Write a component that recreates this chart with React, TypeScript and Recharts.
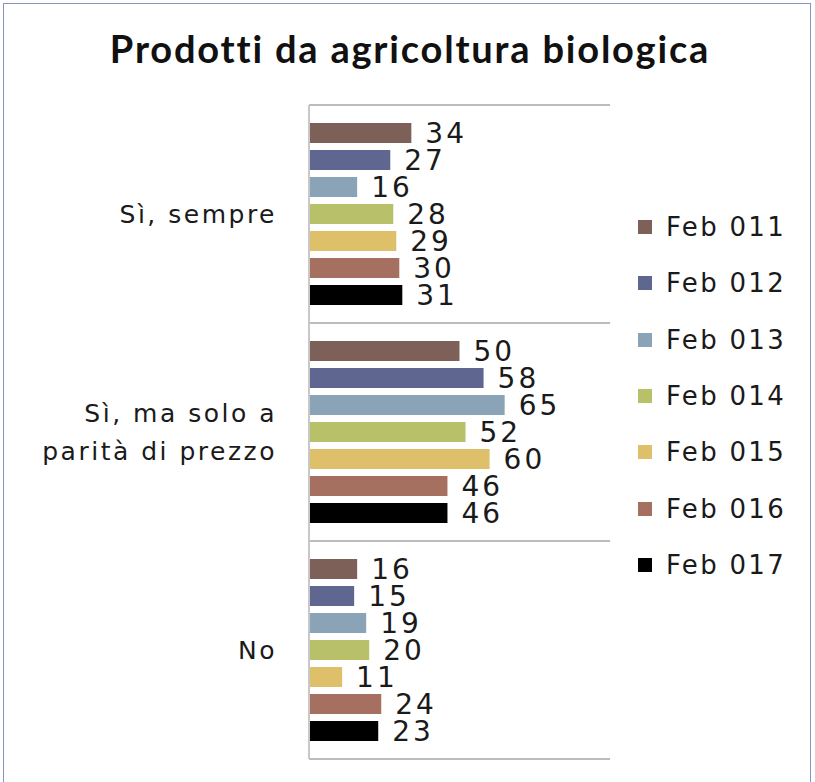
import { BarChart, Bar, XAxis, YAxis, CartesianGrid, Legend, LabelList } from "recharts";

const categories = ["Sì, sempre", "Sì, ma solo a\nparità di prezzo", "No"];

const feb011 = [34, 50, 16];
const feb012 = [27, 58, 15];
const feb013 = [16, 65, 19];
const feb014 = [28, 52, 20];
const feb015 = [29, 60, 11];
const feb016 = [30, 46, 24];
const feb017 = [31, 46, 23];

const seriesNames = ["Feb 011", "Feb 012", "Feb 013", "Feb 014", "Feb 015", "Feb 016", "Feb 017"];
const seriesValues = [feb011, feb012, feb013, feb014, feb015, feb016, feb017];
const COLORS = ["#7d6057", "#5f6690", "#8ba3b6", "#b8c16a", "#dfc06a", "#a57060", "#000000"];

const data = categories.map((category, i) => {
  const row: Record<string, string | number> = { category };
  seriesNames.forEach((name, s) => {
    row[name] = seriesValues[s][i];
  });
  return row;
});

const FONT = "'DejaVu Sans', sans-serif";

function CategoryTick(props: any) {
  const { x, y, payload } = props;
  const lines = String(payload.value).split("\n");
  const lineHeight = 38;
  const startY = y - ((lines.length - 1) * lineHeight) / 2;
  return (
    <text
      x={x - 24}
      textAnchor="end"
      fill="#1a1a1a"
      fontSize={25}
      fontFamily={FONT}
      letterSpacing={2.5}
    >
      {lines.map((line, i) => (
        <tspan key={i} x={x - 24} y={startY + i * lineHeight} dominantBaseline="central">
          {line}
        </tspan>
      ))}
    </text>
  );
}

function renderLegend(props: any) {
  const { payload } = props;
  return (
    <div>
      {payload.map((item: any) => (
        <div
          key={item.value}
          style={{
            display: "flex",
            alignItems: "center",
            height: 56.3,
            fontSize: 26,
            letterSpacing: 2.3,
            color: "#1a1a1a",
          }}
        >
          <span style={{ width: 14, height: 14, background: item.color, marginRight: 14 }} />
          {item.value}
        </div>
      ))}
    </div>
  );
}

export default function App() {
  return (
    <div
      style={{
        position: "absolute",
        left: 0,
        top: 0,
        width: 815,
        height: 782,
        overflow: "hidden",
        background: "#fff",
        fontFamily: FONT,
      }}
    >
      <div
        style={{
          position: "absolute",
          left: 3,
          top: 3,
          width: 806,
          height: 820,
          border: "1.5px solid #8a93c0",
        }}
      />
      <div
        style={{
          position: "absolute",
          left: 0,
          top: 25,
          width: 820,
          textAlign: "center",
          fontFamily: "Lato, sans-serif",
          fontWeight: 700,
          fontSize: 38,
          letterSpacing: 1.8,
          color: "#111",
        }}
      >
        Prodotti da agricoltura biologica
      </div>
      <div style={{ position: "absolute", left: 0, top: 0 }}>
        <BarChart
          width={815}
          height={782}
          data={data}
          layout="vertical"
          margin={{ top: 105, right: 205, bottom: 23, left: 0 }}
          barSize={20}
          barGap={7}
        >
          <CartesianGrid
            vertical={false}
            stroke="#a6a6a6"
            strokeWidth={1.5}
            horizontalCoordinatesGenerator={({ offset }: any) =>
              [0, 1, 2, 3].map((i) => offset.top + (i * offset.height) / 3)
            }
          />
          <XAxis type="number" domain={[0, 100]} hide />
          <YAxis
            type="category"
            dataKey="category"
            width={309}
            axisLine={{ stroke: "#c8c8c8", strokeWidth: 2 }}
            tickLine={false}
            tick={<CategoryTick />}
            interval={0}
          />
          <Legend
            layout="vertical"
            align="center"
            verticalAlign="middle"
            wrapperStyle={{ left: 638, top: 199, width: 175 }}
            content={renderLegend}
          />
          {seriesNames.map((name, s) => (
            <Bar key={name} dataKey={name} fill={COLORS[s]} isAnimationActive={false}>
              <LabelList
                dataKey={name}
                position="right"
                offset={14}
                fill="#1a1a1a"
                fontSize={28}
                letterSpacing={3}
                fontFamily={FONT}
              />
            </Bar>
          ))}
        </BarChart>
      </div>
    </div>
  );
}
